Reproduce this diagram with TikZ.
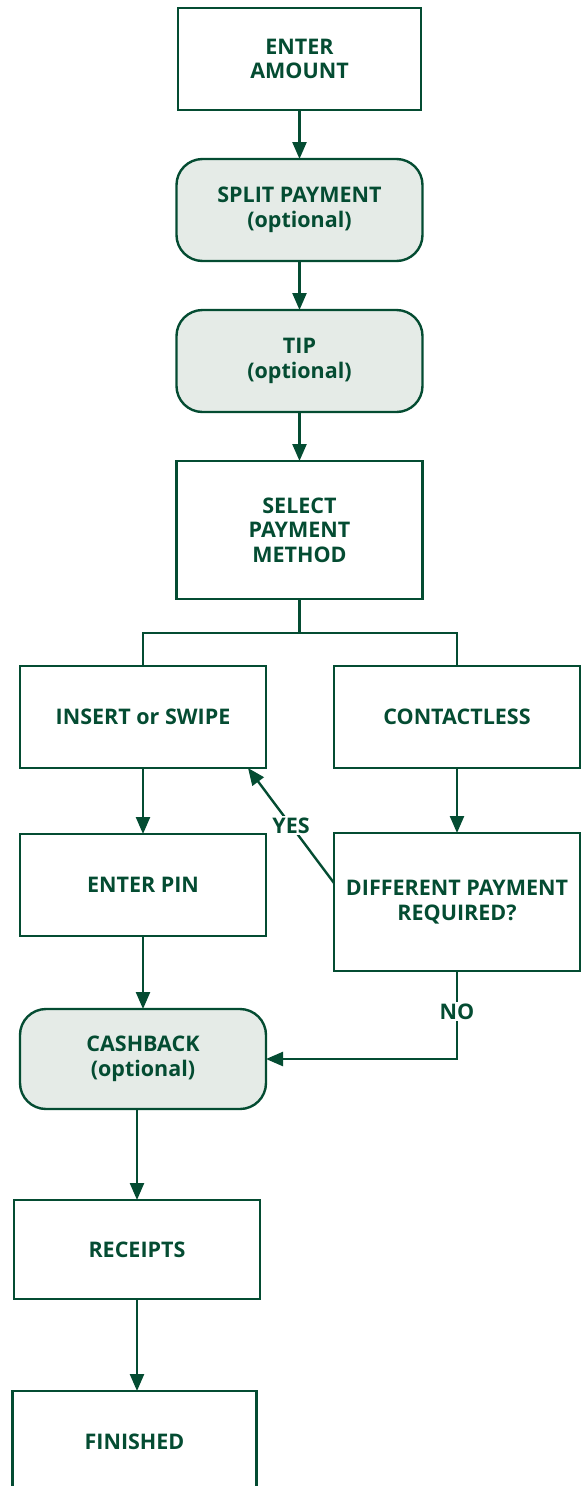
\documentclass[tikz,border=0pt]{standalone}
\usepackage{fontspec}
\setmainfont{Open Sans}
\usetikzlibrary{arrows.meta,positioning}
\definecolor{pgreen}{RGB}{4,76,50}
\definecolor{pfill}{RGB}{229,235,231}
\begin{document}
\begin{tikzpicture}[x=1pt,y=1pt,line width=2.4pt,draw=pgreen,
    every node/.style={draw=pgreen,text=pgreen,align=center,font=\bfseries\fontsize{21.5}{24.5}\selectfont,minimum width=246pt,minimum height=102pt,inner sep=2pt,outer sep=0pt},
    opt/.style={rounded corners=26pt,fill=pfill},
    tall/.style={minimum height=138pt},
    lbl/.style={draw=none,fill=white,minimum width=0pt,minimum height=0pt,inner sep=2pt},
    arr/.style={pgreen,-{Triangle[length=17pt,width=14pt]}}]
      \useasboundingbox (0,0) rectangle (582,-1486);
      \node[minimum width=243pt] (amt) at (299.5,-59) {ENTER\\AMOUNT};
      \node[opt,below=49pt of amt] (split) {SPLIT PAYMENT\\(optional)};
      \node[opt,below=49pt of split] (tip) {TIP\\(optional)};
      \node[tall,below=49pt of tip] (sel) {SELECT\\PAYMENT\\METHOD};
      \node[below=67pt of sel,xshift=-156.5pt] (ins) {INSERT or SWIPE};
      \node[below=67pt of sel,xshift=157.5pt] (cont) {CONTACTLESS};
      \node[below=66pt of ins] (pin) {ENTER PIN};
      \node[tall,below=65pt of cont] (diff) {DIFFERENT PAYMENT\\REQUIRED?};
      \node[opt,minimum height=100pt,below=73pt of pin] (cash) {CASHBACK\\(optional)};
      \node[minimum height=99pt,below=91pt of cash,xshift=-6pt] (rec) {RECEIPTS};
      \node[minimum width=244pt,below=92pt of rec,xshift=-2.5pt] (fin) {FINISHED};
      \coordinate[below=34pt of sel] (fork);
      \draw[arr] (amt)--(split);
      \draw[arr] (split)--(tip);
      \draw[arr] (tip)--(sel);
      \draw (sel.south)--(fork);
      \draw (ins.north) |- (fork) -| (cont.north);
      \draw[arr] (ins)--(pin);
      \draw[arr] (cont)--(diff);
      \draw[arr] ([yshift=19pt]diff.west)--node[lbl]{YES}([xshift=-18pt]ins.south east);
      \draw[arr] (diff.south) |- node[lbl,pos=0.23]{NO} (cash.east);
      \draw[arr] (pin)--(cash);
      \draw[arr] (rec.north |- cash.south)--(rec.north);
      \draw[arr] (rec.south)--(rec.south |- fin.north);
    \end{tikzpicture}
\end{document}
